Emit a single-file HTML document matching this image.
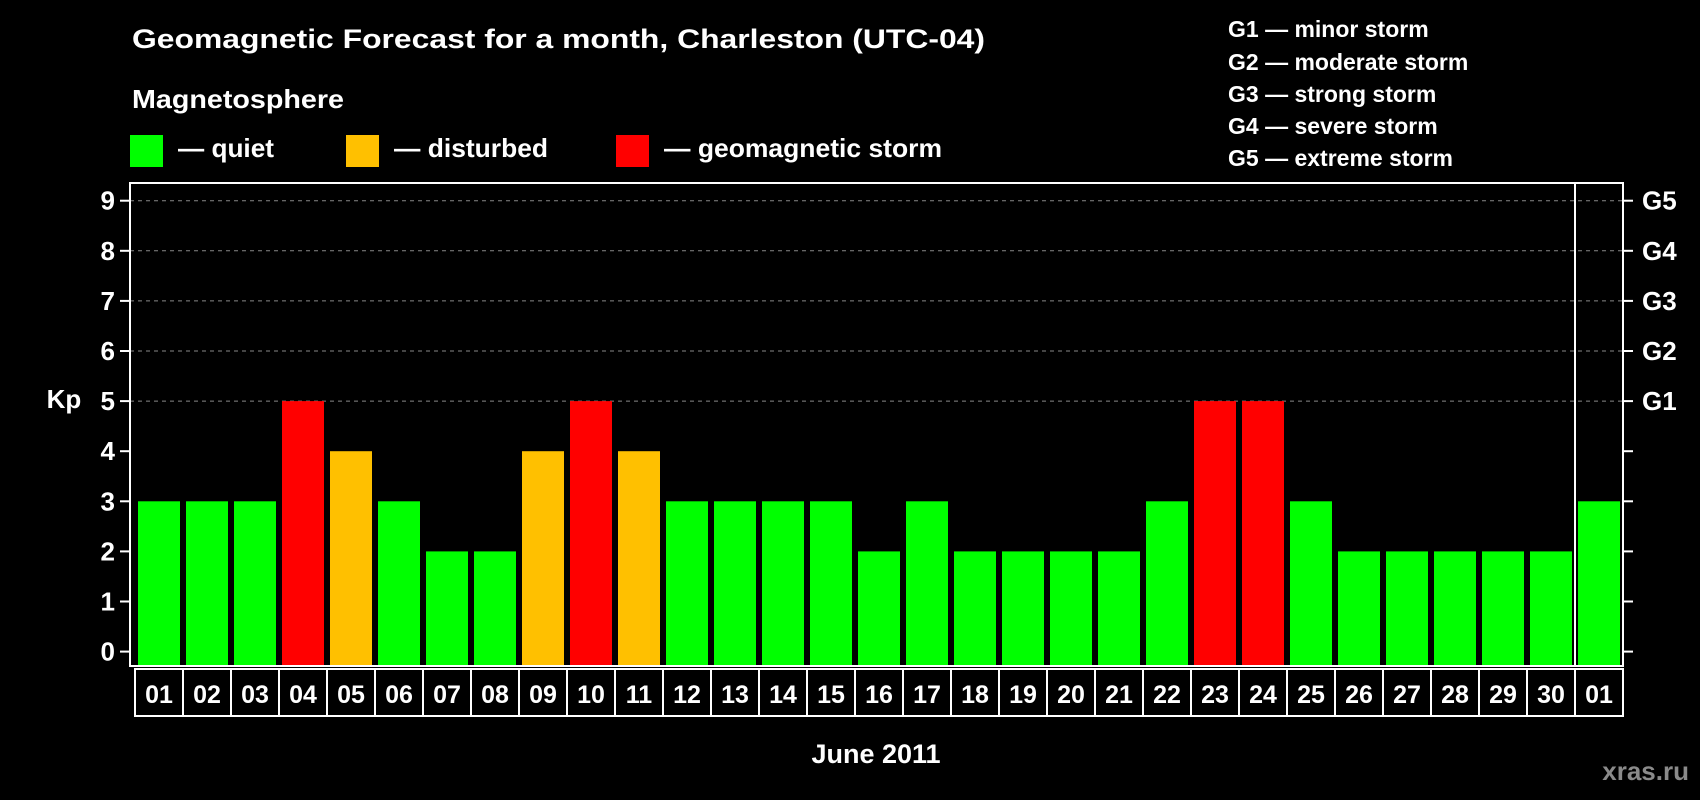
<!DOCTYPE html>
<html><head><meta charset="utf-8"><style>
html,body{margin:0;padding:0;background:#000;width:1700px;height:800px;overflow:hidden}
svg{display:block;font-family:"Liberation Sans",sans-serif;font-weight:bold}
</style></head><body>
<svg id="chart" width="1700" height="800" viewBox="0 0 1700 800">
<rect width="1700" height="800" fill="#000"/>
<text x="132" y="48" font-size="27" fill="#fff" textLength="853" lengthAdjust="spacingAndGlyphs">Geomagnetic Forecast for a month, Charleston (UTC-04)</text>
<text x="132" y="108" font-size="26" fill="#fff" textLength="212" lengthAdjust="spacingAndGlyphs">Magnetosphere</text>
<rect x="130" y="135" width="33" height="32" fill="#00ff00"/>
<text x="178" y="157" font-size="26" fill="#fff" textLength="96" lengthAdjust="spacingAndGlyphs">— quiet</text>
<rect x="346" y="135" width="33" height="32" fill="#ffc000"/>
<text x="394" y="157" font-size="26" fill="#fff" textLength="154" lengthAdjust="spacingAndGlyphs">— disturbed</text>
<rect x="616" y="135" width="33" height="32" fill="#ff0000"/>
<text x="664" y="157" font-size="26" fill="#fff" textLength="278" lengthAdjust="spacingAndGlyphs">— geomagnetic storm</text>
<g font-size="23" fill="#fff">
<text x="1228" y="37">G1 — minor storm</text>
<text x="1228" y="70">G2 — moderate storm</text>
<text x="1228" y="102">G3 — strong storm</text>
<text x="1228" y="134">G4 — severe storm</text>
<text x="1228" y="166">G5 — extreme storm</text>
</g>
<text x="64" y="408" font-size="26" fill="#fff" text-anchor="middle">Kp</text>
<text x="876" y="763" font-size="27" fill="#fff" text-anchor="middle">June 2011</text>
<text x="1689" y="780" font-size="26" fill="#8a8a8a" text-anchor="end">xras.ru</text>
<g id="plot"></g>
</svg>
<script>
const days = ["01","02","03","04","05","06","07","08","09","10","11","12","13","14","15","16","17","18","19","20","21","22","23","24","25","26","27","28","29","30","01"];
const kp = [3,3,3,5,4,3,2,2,4,5,4,3,3,3,3,2,3,2,2,2,2,3,5,5,3,2,2,2,2,2,3];
const yTicks = [0,1,2,3,4,5,6,7,8,9];
const gLabels = ["G1","G2","G3","G4","G5"];
const gLevels = [5,6,7,8,9];

const NS = "http://www.w3.org/2000/svg";
const plot = document.getElementById("plot");
const L = 130, R = 1623, T = 183, B = 666;
const y0 = 651.6, unit = 50.1;
const slot = 48, first = 159;
function yS(v){ return y0 - v*unit; }
function xS(i){ return first + i*slot; }
function mk(tag, attrs){ const e=document.createElementNS(NS,tag); for(const k in attrs) e.setAttribute(k,attrs[k]); plot.appendChild(e); return e; }
function color(v){ return v>=5 ? "#ff0000" : (v>=4 ? "#ffc000" : "#00ff00"); }

// gridlines
gLevels.forEach(v=>{
  const g = mk("line",{x1:L,x2:R,y1:yS(v),y2:yS(v),stroke:"#888","stroke-width":1,"stroke-dasharray":"4,4"});
  
  
});
// bars
kp.forEach((v,i)=>{
  const b = mk("rect",{x:xS(i)-21,y:yS(v),width:42,height:B-yS(v)-1,fill:color(v)});
  
  
});
// frame
const fr = mk("rect",{x:L,y:T,width:R-L,height:B-T,fill:"none",stroke:"#fff","stroke-width":2});


const sep = mk("line",{x1:xS(29.5),x2:xS(29.5),y1:T,y2:B,stroke:"#fff","stroke-width":2});


// y ticks
yTicks.forEach(v=>{
  const t1 = mk("line",{x1:L-10,x2:L,y1:yS(v),y2:yS(v),stroke:"#fff","stroke-width":2});
  
  
  const t2 = mk("line",{x1:R,x2:R+10,y1:yS(v),y2:yS(v),stroke:"#fff","stroke-width":2});
  
  
  const lb = mk("text",{x:115,y:yS(v)+9,"font-size":26,fill:"#fff","text-anchor":"end"});
  lb.textContent = v;
  
  
});
gLabels.forEach((g,i)=>{
  const lb = mk("text",{x:1642,y:yS(gLevels[i])+9,"font-size":26,fill:"#fff"});
  lb.textContent = g;
  
  
});
// x label boxes
days.forEach((d,i)=>{
  const bx = mk("rect",{x:xS(i)-24,y:669,width:48,height:47,fill:"none",stroke:"#fff","stroke-width":2});
  
  
  const lb = mk("text",{x:xS(i),y:703,"font-size":25,fill:"#fff","text-anchor":"middle"});
  lb.textContent = d;
  
  
});
</script>
</body></html>
